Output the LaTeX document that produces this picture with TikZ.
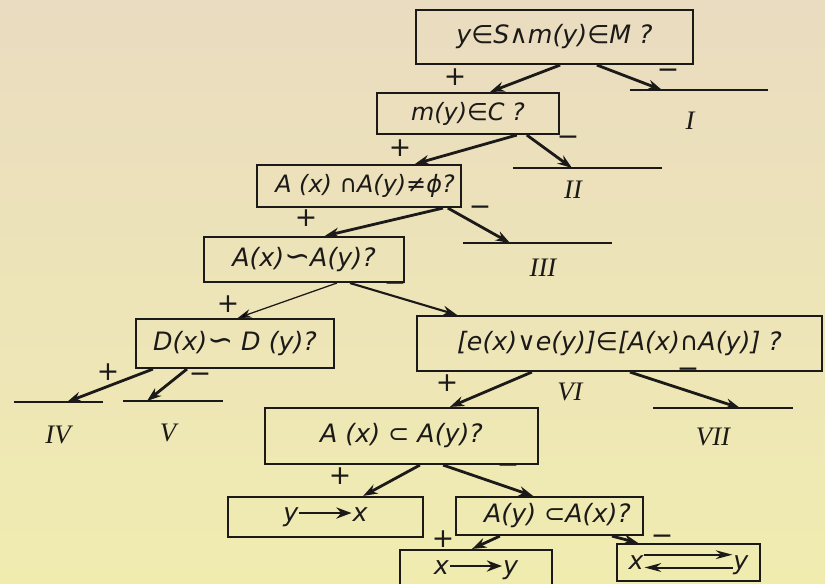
\documentclass[tikz,border=0pt]{standalone}
\usepackage{fontspec}
\setmainfont{DejaVu Sans}
\newfontfamily\romfont{Liberation Serif}
\usetikzlibrary{arrows.meta, calc}
\definecolor{ink}{RGB}{28,26,24}
\definecolor{papertop}{RGB}{234,220,192}
\definecolor{paperbot}{RGB}{240,236,176}
\newcommand{\longto}{\tikz[baseline=-0.6ex]\draw[line width=1.6pt,-{Stealth[length=3.8mm,width=2.8mm]}] (0,0) -- (1.3cm,0);}
\newcommand{\backforth}{\tikz[baseline=-0.6ex]{%
  \draw[line width=1.4pt,-{Stealth[length=4.2mm,width=2.2mm]}] (0,0.16cm) -- (2.2cm,0.16cm);
  \draw[line width=1.4pt,{Stealth[length=4.2mm,width=2.2mm]}-] (0,-0.16cm) -- (2.2cm,-0.16cm);}}
\newcommand{\bigsim}{{\fontsize{22}{20}\selectfont ∽}}

\begin{document}
\begin{tikzpicture}[
  x=0.025cm, y=-0.025cm,
  box/.style={draw=ink, line width=1.5pt, inner sep=2pt, text=ink, font=\itshape\fontsize{18}{20}\selectfont},
  sign/.style={text=ink, inner sep=0pt, font=\fontsize{19}{19}\selectfont},
  rom/.style={text=ink, inner sep=0pt, font=\romfont\itshape\fontsize{19}{19}\selectfont},
  arrow/.style={draw=ink, line width=2pt, -{Stealth[length=3.6mm, width=2.5mm]}},
  thinarrow/.style={draw=ink, line width=0.9pt, -{Stealth[length=3.4mm, width=2.2mm]}},
  bar/.style={draw=ink, line width=1.8pt}
]
\useasboundingbox (0,0) rectangle (825,584);
\shade[top color=papertop, bottom color=paperbot] (0,0) rectangle (825,584);

% question boxes
\node[box, minimum width=6.925cm, minimum height=1.35cm] (q1) at (554.5,37) {y∈S∧m(y)∈M ?};
\node[box, minimum width=4.55cm, minimum height=1.025cm, font=\itshape\fontsize{17}{19}\selectfont] (q2) at (468,113.5) {m(y)∈C ?};
\node[box, minimum width=5.1cm, minimum height=1.05cm, font=\itshape\fontsize{17}{19}\selectfont] (q3) at (359,186) {\hspace{0.3cm}A (x) ∩A(y)≠ϕ?};
\node[box, minimum width=5cm, minimum height=1.125cm] (q4) at (304,259.5) {A(x)\bigsim A(y)?};
\node[box, minimum width=4.95cm, minimum height=1.225cm] (q5) at (235,343.5) {D(x)\bigsim\ D (y)?};
\node[box, minimum width=10.125cm, minimum height=1.375cm] (q6) at (619.5,343.5) {[e(x)∨e(y)]∈[A(x)∩A(y)] ?\hspace{1.1cm}};
\node[box, minimum width=6.825cm, minimum height=1.4cm] (q7) at (401.5,436) {A (x) ⊂ A(y)?};
\node[box, minimum width=4.675cm, minimum height=0.95cm] (q9) at (549.5,516) {\hspace{0.4cm}A(y) ⊂A(x)?};

% result boxes
\node[box, minimum width=4.875cm, minimum height=1cm] (r8) at (325.5,517) {y\longto x};
\node[box, minimum width=3.8cm, minimum height=1cm] (r10) at (476,570) {x\longto y};
\node[box, minimum width=3.575cm, minimum height=0.925cm] (r11) at (688.5,562.5) {x\backforth y};

% terminal bars
\coordinate (e1) at (662,90);
\coordinate (e2) at (572,168);
\coordinate (e3) at (510,243);
\coordinate (e4) at (67,402);
\coordinate (e5) at (147,401);
\coordinate (e7) at (740,408);
\draw[bar] (630,90) -- (768,90);
\draw[bar] (513,168) -- (662,168);
\draw[bar] (463,243) -- (612,243);
\draw[bar] (14,402) -- (103,402);
\draw[bar] (123,401) -- (223,401);
\draw[bar] (653,408) -- (793,408);

\node[rom] (t1) at (690,121) {I};
\node[rom] (t2) at (573,190) {II};
\node[rom] (t3) at (543,268) {III};
\node[rom] (t4) at (58,435) {IV};
\node[rom] (t5) at (168,433) {V};
\node[rom] (t6) at (570,392) {VI};
\node[rom] (t7) at (713,437) {VII};

% branches
\draw[arrow] ([xshift=0.14cm]q1.south) -- ([xshift=0.55cm]q2.north);
\draw[arrow] ([xshift=1.06cm]q1.south) -- (e1);
\draw[arrow] ([xshift=1.22cm]q2.south) -- ([xshift=1.4cm]q3.north);
\draw[arrow] ([xshift=1.47cm]q2.south) -- (e2);
\draw[arrow] ([xshift=2.1cm]q3.south) -- ([xshift=0.52cm]q4.north);
\draw[arrow] ([xshift=2.22cm]q3.south) -- (e3);
\draw[thinarrow] ([xshift=0.82cm]q4.south) -- ([xshift=0.07cm]q5.north);
\draw[arrow, line width=1.5pt] ([xshift=1.15cm]q4.south) -- ([xshift=-4.06cm]q6.north);
\draw[arrow] ([xshift=-2.05cm]q5.south) -- (e4);
\draw[arrow] ([xshift=-1.2cm]q5.south) -- (e5);
\draw[arrow] ([xshift=-2.19cm]q6.south) -- ([xshift=1.21cm]q7.north);
\draw[arrow] ([xshift=0.26cm]q6.south) -- (e7);
\draw[arrow] ([xshift=0.46cm]q7.south) -- ([xshift=0.94cm]r8.north);
\draw[arrow] ([xshift=1.04cm]q7.south) -- ([xshift=-0.41cm]q9.north);
\draw[arrow] ([xshift=-1.24cm]q9.south) -- ([xshift=-0.1cm]r10.north);
\draw[arrow] ([xshift=1.56cm]q9.south) -- ([xshift=-1.26cm]r11.north);

% signs
\node[sign] (p1) at (455,77) {+};
\node[sign] (m1) at (668,74) {−};
\node[sign] (p2) at (400,148) {+};
\node[sign] (m2) at (568,141) {−};
\node[sign] (p3) at (306,218) {+};
\node[sign] (m3) at (480,211) {−};
\node[sign] (p4) at (228,304) {+};
\node[sign] (m4) at (395,287) {−};
\node[sign] (p5) at (108,372) {+};
\node[sign] (m5) at (200,378) {−};
\node[sign] (p6) at (447,383) {+};
\node[sign] (m6) at (688,373) {−};
\node[sign] (p7) at (340,476) {+};
\node[sign] (m7) at (508,469) {−};
\node[sign] (p9) at (443,539) {+};
\node[sign] (m9) at (662,540) {−};
\end{tikzpicture}
\end{document}
